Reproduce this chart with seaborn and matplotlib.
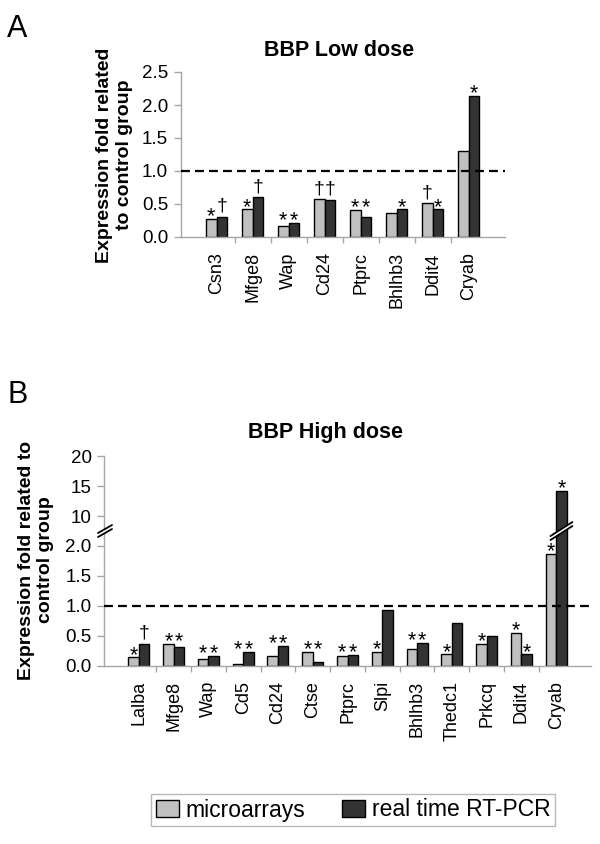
import numpy as np
import pandas as pd
import seaborn as sns
import matplotlib.pyplot as plt
from matplotlib.patches import Patch, Polygon
from matplotlib.lines import Line2D
from matplotlib.transforms import IdentityTransform

# --- data ---
genes_low = ['Csn3', 'Mfge8', 'Wap', 'Cd24', 'Ptprc', 'Bhlhb3', 'Ddit4', 'Cryab']
micro_low = [0.28, 0.42, 0.17, 0.57, 0.41, 0.36, 0.51, 1.30]
pcr_low = [0.31, 0.60, 0.21, 0.56, 0.31, 0.42, 0.42, 2.14]
marks_micro_low = ['*', '*', '*', '†', '*', '', '†', '']
marks_pcr_low = ['†', '†', '*', '†', '*', '*', '*', '*']

genes_high = ['Lalba', 'Mfge8', 'Wap', 'Cd5', 'Cd24', 'Ctse', 'Ptprc', 'Slpi',
              'Bhlhb3', 'Thedc1', 'Prkcq', 'Ddit4', 'Cryab']
micro_high = [0.14, 0.36, 0.12, 0.03, 0.16, 0.23, 0.16, 0.23, 0.28, 0.19, 0.36, 0.55, 1.87]
pcr_high = [0.37, 0.31, 0.16, 0.23, 0.33, 0.07, 0.18, 0.93, 0.38, 0.72, 0.49, 0.19, 14.2]
marks_micro_high = ['*', '*', '*', '*', '*', '*', '*', '*', '*', '*', '*', '*', '*']
marks_pcr_high = ['†', '*', '*', '*', '*', '*', '*', '', '*', '', '', '*', '*']

methods = ['microarrays', 'real time RT-PCR']
colors = ['#C0C0C0', '#333333']
yticks_low = [0.0, 0.5, 1.0, 1.5, 2.0, 2.5]
yticks_high = [0.0, 0.5, 1.0, 1.5, 2.0, 10, 15, 20]
ytick_labels_high = ['0.0', '0.5', '1.0', '1.5', '2.0', '10', '15', '20']

sns.set_style('white')
plt.rcParams['font.family'] = ['Liberation Sans', 'DejaVu Sans']
plt.rcParams['text.color'] = 'black'
plt.rcParams['xtick.labelcolor'] = 'black'
plt.rcParams['ytick.labelcolor'] = 'black'

GRAY = '#A6A6A6'
W, H = 600, 844

# broken y scale for panel B: 0..2.25 linear, 7.5..20 compressed
LO, HI, EPS, K = 2.25, 7.5, 1e-3, 0.1


def fwd(y):
    y = np.asarray(y, dtype=float)
    lo = np.minimum(y, LO)
    mid = (np.clip(y, LO, HI) - LO) * EPS / (HI - LO)
    hi = (np.maximum(y, HI) - HI) * K
    return lo + mid + hi


def inv(t):
    t = np.asarray(t, dtype=float)
    a = np.minimum(t, LO)
    b = (np.clip(t, LO, LO + EPS) - LO) * (HI - LO) / EPS
    c = (np.maximum(t, LO + EPS) - LO - EPS) / K
    return a + b + c


def draw_panel(ax, genes, micro, pcr, m_micro, m_pcr):
    n = len(genes)
    df = pd.DataFrame({
        'Gene': genes + genes,
        'Method': [methods[0]] * n + [methods[1]] * n,
        'Value': micro + pcr,
    })
    sns.barplot(data=df, x='Gene', y='Value', hue='Method', hue_order=methods,
                palette=dict(zip(methods, colors)), width=0.6, errorbar=None,
                edgecolor='black', linewidth=1, legend=False, ax=ax, zorder=2)
    ax.set_xlim(-1, n)
    ax.axhline(1.0, color='black', lw=1.6, dashes=(4, 2.3), zorder=3)
    for s in ['top', 'right']:
        ax.spines[s].set_visible(False)
    for s in ['left', 'bottom']:
        ax.spines[s].set_color(GRAY)
        ax.spines[s].set_linewidth(1)
    ax.set_xlabel('')
    ax.set_ylabel('')
    ax.set_xticks(range(n))
    ax.set_xticklabels(genes, rotation=90, fontsize=13)
    ax.set_xticks(np.arange(n - 1) + 0.5, minor=True)
    ax.tick_params(axis='x', which='major', length=0, pad=11, bottom=True)
    ax.tick_params(axis='x', which='minor', length=4.5, width=1, color=GRAY, bottom=True)
    ax.tick_params(axis='y', which='major', length=5, width=1, color=GRAY,
                   labelsize=13.5, pad=4, left=True)
    # significance marks
    for i in range(n):
        a, b = micro[i], pcr[i]
        ya, yb = a, b
        if m_micro[i] and m_micro[i] == m_pcr[i] and abs(a - b) < 0.25:
            ya = yb = max(a, b)
        for x, y, m in [(i - 0.15, ya, m_micro[i]), (i + 0.15, yb, m_pcr[i])]:
            if m == '*':
                ax.annotate(m, xy=(x, y), xytext=(0, -2.5), textcoords='offset points',
                            ha='center', va='baseline', fontsize=15.5, zorder=4)
            elif m:
                ax.annotate(m, xy=(x, y), xytext=(0, 4), textcoords='offset points',
                            ha='center', va='baseline', fontsize=14, zorder=4)


fig = plt.figure(figsize=(W / 100, H / 100), dpi=100)


def px_rect(l, t, r, b):
    return [l / W, 1 - b / H, (r - l) / W, (b - t) / H]


# panel A
ax_a = fig.add_axes(px_rect(180.6, 72, 504.6, 237))
draw_panel(ax_a, genes_low, micro_low, pcr_low, marks_micro_low, marks_pcr_low)
ax_a.set_ylim(0, 2.5)
ax_a.set_yticks(yticks_low)
ax_a.set_yticklabels([f'{v:.1f}' for v in yticks_low])

# panel B
top_b = 665.7 - fwd(20) * 59.85
ax_b = fig.add_axes(px_rect(104, top_b, 591, 665.7))
draw_panel(ax_b, genes_high, micro_high, pcr_high, marks_micro_high, marks_pcr_high)
ax_b.set_yscale('function', functions=(fwd, inv))
ax_b.set_ylim(0, 20)
ax_b.set_yticks(yticks_high)
ax_b.set_yticklabels(ytick_labels_high)
ax_b.yaxis.set_minor_locator(plt.NullLocator())

# texts
fig.text(7 / W, 1 - 37 / H, 'A', fontsize=22, ha='left', va='baseline')
fig.text(7 / W, 1 - 403 / H, 'B', fontsize=22, ha='left', va='baseline')
fig.text(339 / W, 1 - 56 / H, 'BBP Low dose', fontsize=15.5, fontweight='bold',
         ha='center', va='baseline')
fig.text(326 / W, 1 - 438 / H, 'BBP High dose', fontsize=15.5, fontweight='bold',
         ha='center', va='baseline')
fig.text(114.5 / W, 1 - 155 / H, 'Expression fold related\nto control group',
         fontsize=14, fontweight='bold', rotation=90, ha='center', va='center',
         multialignment='center')
fig.text(36 / W, 1 - 560 / H, 'Expression fold related to\ncontrol group',
         fontsize=14, fontweight='bold', rotation=90, ha='center', va='center',
         multialignment='center')

# break marks (display coordinates, dpi 100)
ident = IdentityTransform()


def break_mark(cx, cy, half_w, rise, gap, lw=1.3):
    p1 = [(cx - half_w, cy - rise - gap / 2), (cx + half_w, cy + rise - gap / 2)]
    p2 = [(cx - half_w, cy - rise + gap / 2), (cx + half_w, cy + rise + gap / 2)]
    poly = Polygon([p1[0], p1[1], p2[1], p2[0]], closed=True, facecolor='white',
                   edgecolor='none', transform=ident, zorder=10)
    fig.add_artist(poly)
    for p in (p1, p2):
        fig.add_artist(Line2D([p[0][0], p[1][0]], [p[0][1], p[1][1]], color='black',
                              lw=lw, transform=ident, zorder=11))


bx, by = ax_b.transData.transform((12 + 0.15, LO + EPS / 2))
break_mark(bx, by, 11, 7, 4)
ax_x, _ = ax_b.transAxes.transform((0, 0))
break_mark(ax_x + 1, by, 7, 4, 4)

# legend
handles = [Patch(facecolor=c, edgecolor='black', linewidth=1, label=m)
           for m, c in zip(methods, colors)]
leg = fig.legend(handles=handles, loc='center', bbox_to_anchor=(353 / W, 1 - 810 / H),
                 ncol=2, frameon=True, fancybox=False, edgecolor=GRAY, fontsize=16.5,
                 handlelength=1.0, handleheight=0.8, handletextpad=0.3,
                 columnspacing=1.6, borderpad=0.2, borderaxespad=0)
leg.get_frame().set_linewidth(1)

fig.savefig('out.png', dpi=100)
